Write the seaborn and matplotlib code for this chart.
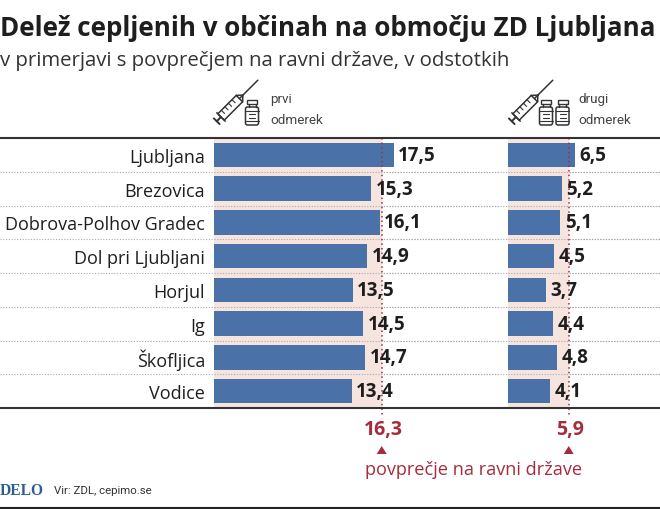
import matplotlib
matplotlib.use("Agg")
import matplotlib.pyplot as plt
from matplotlib.patches import Polygon, Rectangle, FancyBboxPatch
from matplotlib import transforms
import pandas as pd
import seaborn as sns

municipalities = ["Ljubljana", "Brezovica", "Dobrova-Polhov Gradec", "Dol pri Ljubljani",
                  "Horjul", "Ig", "Škofljica", "Vodice"]
first_dose = [17.5, 15.3, 16.1, 14.9, 13.5, 14.5, 14.7, 13.4]
second_dose = [6.5, 5.2, 5.1, 4.5, 3.7, 4.4, 4.8, 4.1]
first_labels = ["17,5", "15,3", "16,1", "14,9", "13,5", "14,5", "14,7", "13,4"]
second_labels = ["6,5", "5,2", "5,1", "4,5", "3,7", "4,4", "4,8", "4,1"]
first_avg = 16.3
second_avg = 5.9
first_avg_label = "16,3"
second_avg_label = "5,9"

BLUE = "#4A71A8"
PINK = "#F6E4DF"
RED = "#A52C3C"
DARK = "#1E1E1E"
DOTS = "#A8A8A8"
W, H = 660, 510
PX_PER_UNIT = 10.29
TOP, BOTTOM = 139, 409

sns.set_theme(style="white")
plt.rcParams["font.family"] = ["Open Sans", "DejaVu Sans"]

df = pd.DataFrame({"municipality": municipalities, "first": first_dose, "second": second_dose})

fig = plt.figure(figsize=(W / 100, H / 100), dpi=100, facecolor="white")

# overlay in pixel coordinates, for text, rules and icons
bg = fig.add_axes([0, 0, 1, 1], zorder=0)
bg.set_xlim(0, W)
bg.set_ylim(H, 0)
bg.axis("off")
top = fig.add_axes([0, 0, 1, 1], zorder=5)
top.set_xlim(0, W)
top.set_ylim(H, 0)
top.axis("off")
top.patch.set_alpha(0)


def panel(x0, x1, col, avg, labels, show_names):
    ax = fig.add_axes([x0 / W, 1 - BOTTOM / H, (x1 - x0) / W, (BOTTOM - TOP) / H], zorder=2)
    ax.patch.set_alpha(0)
    ax.axvspan(0, avg, color=PINK, lw=0, zorder=0)
    sns.barplot(data=df, y="municipality", x=col, color=BLUE, width=0.72, saturation=1,
                linewidth=0, ax=ax, zorder=2)
    ax.set_xlim(0, (x1 - x0) / PX_PER_UNIT)
    ax.set_ylim(len(df) - 0.5, -0.5)
    ax.set_xlabel("")
    ax.set_ylabel("")
    ax.set_xticks([])
    sns.despine(ax=ax, left=True, bottom=True)
    if show_names:
        ax.tick_params(axis="y", length=0, pad=6.5, labelsize=13, labelcolor=DARK)
    else:
        ax.set_yticks([])
    # row separators over the pink band
    for i in range(1, len(df)):
        ax.axhline(i - 0.5, color=DOTS, lw=0.8, ls=(0, (1, 1.5)), zorder=1)
    for i, (v, lab) in enumerate(zip(df[col], labels)):
        ax.annotate(lab, (v, i), xytext=(3, 0), textcoords="offset points", va="center",
                    ha="left", fontsize=13.5, fontweight="bold", color=DARK, zorder=4)
    ax.plot([avg, avg], [-0.5, len(df) - 0.5 + 0.22], color=RED, lw=1.1, ls=(0, (1, 2)),
            clip_on=False, zorder=3)
    return ax


panel(214, 500, "first", first_avg, first_labels, True)
panel(508, 660, "second", second_avg, second_labels, False)

# dotted separators across the whole width
for i in range(1, 8):
    y = TOP + i * (BOTTOM - TOP) / 8
    bg.plot([0, 660], [y, y], color=DOTS, lw=0.8, ls=(0, (1, 1.5)))

top.plot([0, W], [TOP, TOP], color="#333333", lw=1.5)
top.plot([0, W], [BOTTOM, BOTTOM], color="#333333", lw=1.5)
top.plot([0, W], [H - 1.5, H - 1.5], color="#222222", lw=1.5)

top.text(0, 29, "Delež cepljenih v občinah na območju ZD Ljubljana", fontsize=18.75,
         fontweight="bold", color=DARK, va="center", ha="left")
top.text(0, 61, "v primerjavi s povprečjem na ravni države, v odstotkih", fontsize=14.65,
         color="#333333", va="center", ha="left")

for x, word in [(270, "prvi"), (578, "drugi")]:
    top.text(x, 100, word, fontsize=9.7, color="#444444", va="center", family="Roboto")
    top.text(x, 120, "odmerek", fontsize=9.7, color="#444444", va="center", family="Roboto")


def syringe(x, y):
    # barrel runs from lower left to upper right
    base = transforms.Affine2D().rotate_deg(-45).translate(x, y) + top.transData
    c = "#333333"
    top.add_patch(Rectangle((0, -4.5), 26, 9, fc="none", ec=c, lw=1.1, transform=base))
    top.plot([26, 52], [0, 0], color=c, lw=1.1, transform=base)
    top.plot([26, 31], [-4.5, 0], color=c, lw=1.1, transform=base)
    top.plot([26, 31], [4.5, 0], color=c, lw=1.1, transform=base)
    top.plot([-6, 0], [0, 0], color=c, lw=1.4, transform=base)
    top.plot([-6, -6], [-4, 4], color=c, lw=1.4, transform=base)
    top.plot([0, 0], [-6, 6], color=c, lw=1.1, transform=base)
    for t in range(5, 25, 5):
        top.plot([t, t], [-4.5, 0], color=c, lw=0.8, transform=base)


def vial(x, y):
    c = "#333333"
    top.add_patch(Rectangle((x + 1.5, y), 10, 4, fc="none", ec=c, lw=1.0))
    top.plot([x + 3, x + 3], [y + 4, y + 7], color=c, lw=1.0)
    top.plot([x + 10, x + 10], [y + 4, y + 7], color=c, lw=1.0)
    top.add_patch(FancyBboxPatch((x, y + 7), 13, 18, boxstyle="round,pad=0,rounding_size=2",
                                 fc="none", ec=c, lw=1.1))
    top.plot([x, x + 13], [y + 11, y + 11], color=c, lw=0.8)
    top.plot([x, x + 13], [y + 21, y + 21], color=c, lw=0.8)
    top.plot([x + 3.5, x + 9.5], [y + 14, y + 14], color=c, lw=0.8)
    top.plot([x + 3.5, x + 9.5], [y + 18, y + 18], color=c, lw=0.8)


syringe(221, 118)
vial(245.5, 101)
syringe(516, 118)
vial(539.5, 101)
vial(556, 101)

# national averages below the chart
for avg, lab, x0 in [(first_avg, first_avg_label, 214), (second_avg, second_avg_label, 508)]:
    cx = x0 + avg * PX_PER_UNIT
    top.text(cx + 1.5, 430, lab, fontsize=14, fontweight="bold", color=RED, ha="center", va="center")
    top.add_patch(Polygon([(cx - 5, 455), (cx + 5, 455), (cx, 447)], fc=RED, ec="none"))
top.text(365, 470, "povprečje na ravni države", fontsize=13.1, color=RED, va="center", ha="left")

top.text(0, 491, "DELO", fontsize=11.2, fontweight="bold", color="#2F5D8F", va="center",
         ha="left", family="Liberation Serif")
top.text(54, 491, "Vir: ZDL, cepimo.se", fontsize=8.2, color="#333333", va="center",
         ha="left", family="Roboto")

fig.savefig("out.png", dpi=100)
plt.close(fig)
